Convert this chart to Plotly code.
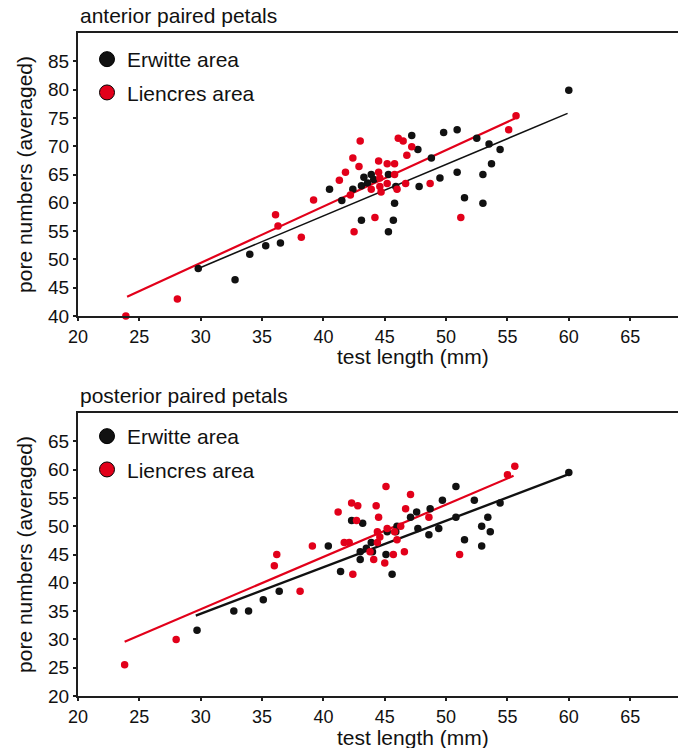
import plotly.graph_objects as go

# ---------------- data ----------------
# anterior paired petals
ant_erw_x = [29.8, 32.8, 34.0, 35.3, 36.5, 40.5, 41.5, 42.4, 43.1, 43.1, 43.3, 43.6, 43.9, 44.1,
             45.3, 45.3, 45.7, 45.8, 45.9, 47.2, 47.7, 47.8, 48.8, 49.5, 49.8, 50.9, 50.9, 51.5,
             52.5, 53.0, 53.0, 53.5, 53.7, 54.4, 60.0]
ant_erw_y = [48.4, 46.4, 50.9, 52.4, 52.9, 62.4, 60.4, 62.4, 56.9, 63.0, 64.5, 63.5, 65.0, 64.1,
             65.0, 54.9, 56.9, 59.9, 62.9, 71.9, 69.4, 62.9, 67.9, 64.4, 72.4, 72.9, 65.4, 60.9,
             71.4, 65.0, 59.9, 70.4, 66.9, 69.4, 79.9]
ant_lie_x = [23.9, 28.1, 36.1, 36.3, 38.2, 39.2, 41.3, 41.8, 42.2, 42.4, 42.5, 42.9, 43.0, 43.9,
             44.2, 44.5, 44.5, 44.6, 44.6, 44.7, 45.2, 45.2, 45.8, 45.8, 46.0, 46.1, 46.5, 46.7,
             46.8, 47.2, 48.7, 51.2, 55.1, 55.7]
ant_lie_y = [40.0, 43.0, 57.9, 55.9, 53.9, 60.5, 64.0, 65.4, 61.4, 67.9, 54.9, 66.4, 70.9, 62.4,
             57.4, 67.4, 65.4, 64.4, 62.9, 61.9, 66.9, 63.4, 66.9, 65.0, 62.4, 71.4, 70.9, 63.4,
             68.4, 69.9, 63.4, 57.4, 72.9, 75.4]
ant_erw_fit_x = [29.9, 59.9]
ant_erw_fit_y = [48.5, 75.8]
ant_lie_fit_x = [24.0, 55.6]
ant_lie_fit_y = [43.4, 74.9]

# posterior paired petals
pos_erw_x = [29.7, 32.7, 33.9, 35.1, 36.4, 40.4, 41.4, 42.3, 43.0, 43.0, 43.2, 43.5, 43.9, 44.0,
             45.1, 45.2, 45.6, 45.9, 46.0, 47.1, 47.6, 47.7, 48.6, 48.7, 49.4, 49.7, 50.8, 50.8,
             51.5, 52.3, 52.9, 52.9, 53.4, 53.6, 54.4, 60.0]
pos_erw_y = [31.6, 35.0, 35.0, 37.0, 38.5, 46.5, 42.0, 51.0, 44.1, 45.5, 50.5, 46.1, 47.1, 45.5,
             45.0, 49.0, 41.5, 49.0, 50.0, 51.6, 52.5, 49.6, 48.5, 53.1, 49.6, 54.6, 57.0, 51.6,
             47.6, 54.6, 50.0, 46.5, 51.6, 49.0, 54.1, 59.5]
pos_lie_x = [23.8, 28.0, 36.0, 36.2, 38.1, 39.1, 41.2, 41.7, 42.1, 42.3, 42.4, 42.7, 42.8, 43.8,
             44.1, 44.3, 44.4, 44.4, 44.5, 44.6, 45.0, 45.1, 45.2, 45.7, 45.8, 46.0, 46.3, 46.6,
             46.7, 47.1, 48.6, 51.1, 55.0, 55.6]
pos_lie_y = [25.5, 30.0, 43.0, 45.0, 38.5, 46.5, 52.5, 47.1, 47.1, 54.1, 41.5, 51.0, 53.6, 45.5,
             44.1, 53.6, 49.0, 47.1, 51.6, 48.1, 43.5, 57.0, 49.6, 45.0, 49.0, 47.6, 50.0, 45.5,
             53.1, 55.6, 51.6, 45.0, 59.1, 60.6]
pos_erw_fit_x = [29.6, 59.9]
pos_erw_fit_y = [34.2, 59.1]
pos_lie_fit_x = [23.8, 55.5]
pos_lie_fit_y = [29.6, 58.9]

x_ticks = [20, 25, 30, 35, 40, 45, 50, 55, 60, 65]
ant_y_ticks = [40, 45, 50, 55, 60, 65, 70, 75, 80, 85]
pos_y_ticks = [20, 25, 30, 35, 40, 45, 50, 55, 60, 65]
series_names = ["Erwitte area", "Liencres area"]
panel_titles = ["anterior paired petals", "posterior paired petals"]
x_title = "test length (mm)"
y_title = "pore numbers (averaged)"

# ---------------- style ----------------
W, H = 678, 748
ML, MR, MT, MB = 78, 0, 33, 52
PW, PH = W - ML - MR, H - MT - MB
BLACK = "#111111"
RED = "#e2001a"
AXC = "#1e1e1e"
FONT = "Liberation Sans, Arial, sans-serif"


def fy(pix):
    return (H - MB - pix) / PH


def fx(pix):
    return (pix - ML) / PW


fig = go.Figure()

panels = [
    dict(xa="x", ya="y", ex=ant_erw_x, ey=ant_erw_y, lx=ant_lie_x, ly=ant_lie_y,
         efx=ant_erw_fit_x, efy=ant_erw_fit_y, lfx=ant_lie_fit_x, lfy=ant_lie_fit_y,
         ew=1.6, legend="legend"),
    dict(xa="x2", ya="y2", ex=pos_erw_x, ey=pos_erw_y, lx=pos_lie_x, ly=pos_lie_y,
         efx=pos_erw_fit_x, efy=pos_erw_fit_y, lfx=pos_lie_fit_x, lfy=pos_lie_fit_y,
         ew=2.4, legend="legend2"),
]

for p in panels:
    fig.add_trace(go.Scatter(x=p["efx"], y=p["efy"], mode="lines", xaxis=p["xa"], yaxis=p["ya"],
                             line=dict(color=BLACK, width=p["ew"]), showlegend=False, hoverinfo="skip"))
    fig.add_trace(go.Scatter(x=p["lfx"], y=p["lfy"], mode="lines", xaxis=p["xa"], yaxis=p["ya"],
                             line=dict(color=RED, width=2.2), showlegend=False, hoverinfo="skip"))
    fig.add_trace(go.Scatter(x=p["ex"], y=p["ey"], mode="markers", xaxis=p["xa"], yaxis=p["ya"],
                             name=series_names[0], marker=dict(color=BLACK, size=7.5),
                             cliponaxis=False, showlegend=False))
    fig.add_trace(go.Scatter(x=p["lx"], y=p["ly"], mode="markers", xaxis=p["xa"], yaxis=p["ya"],
                             name=series_names[1], marker=dict(color=RED, size=7.5),
                             cliponaxis=False, showlegend=False))
    # legend entries
    fig.add_trace(go.Scatter(x=[None], y=[None], mode="markers", xaxis=p["xa"], yaxis=p["ya"],
                             name=series_names[0], legend=p["legend"], legendgroup="e" + p["xa"],
                             marker=dict(color=BLACK, size=15, line=dict(color="#000", width=1))))
    fig.add_trace(go.Scatter(x=[None], y=[None], mode="markers", xaxis=p["xa"], yaxis=p["ya"],
                             name=series_names[1], legend=p["legend"], legendgroup="l" + p["xa"],
                             marker=dict(color=RED, size=15, line=dict(color="#000", width=1))))

xcommon = dict(range=[20, 20 + PW / 12.27], tickvals=x_ticks, ticks="outside", ticklen=3,
               tickwidth=1.5, tickcolor=AXC, showline=True, linewidth=2, linecolor=AXC,
               mirror=True, showgrid=False, zeroline=False,
               tickfont=dict(family=FONT, size=18, color="#111"))
ycommon = dict(ticks="outside", ticklen=3, tickwidth=1.5, tickcolor=AXC, showline=True,
               linewidth=2, linecolor=AXC, mirror=False, showgrid=False, zeroline=False,
               tickfont=dict(family=FONT, size=19, color="#111"),
               title=dict(text=y_title, font=dict(family=FONT, size=21, color="#111"), standoff=10))

fig.update_layout(
    width=W, height=H,
    margin=dict(l=ML, r=MR, t=MT, b=MB, autoexpand=False),
    paper_bgcolor="white", plot_bgcolor="white",
    font=dict(family=FONT, color="#111"),
    xaxis=dict(domain=[0, 1], anchor="y", **xcommon),
    yaxis=dict(domain=[fy(316), 1], anchor="x", range=[40, 90], tickvals=ant_y_ticks, **ycommon),
    xaxis2=dict(domain=[0, 1], anchor="y2", **xcommon),
    yaxis2=dict(domain=[0, fy(413)], anchor="x2", range=[20, 70], tickvals=pos_y_ticks, **ycommon),
    legend=dict(x=fx(87), y=fy(39), xanchor="left", yanchor="top", bgcolor="rgba(0,0,0,0)",
                font=dict(family=FONT, size=21, color="#111"), itemsizing="trace", tracegroupgap=3),
    legend2=dict(x=fx(87), y=fy(416), xanchor="left", yanchor="top", bgcolor="rgba(0,0,0,0)",
                 font=dict(family=FONT, size=21, color="#111"), itemsizing="trace", tracegroupgap=3),
    showlegend=True,
)

for title, base in zip(panel_titles, [24, 404]):
    fig.add_annotation(text=title, xref="paper", yref="paper", x=0, y=fy(base + 5),
                       xanchor="left", yanchor="bottom", showarrow=False,
                       font=dict(family=FONT, size=21, color="#111"))

for center in [356, 737]:
    fig.add_annotation(text=x_title, xref="paper", yref="paper", x=fx(413), y=fy(center),
                       xanchor="center", yanchor="middle", showarrow=False,
                       font=dict(family=FONT, size=21, color="#111"))

fig.write_html("out.html")
